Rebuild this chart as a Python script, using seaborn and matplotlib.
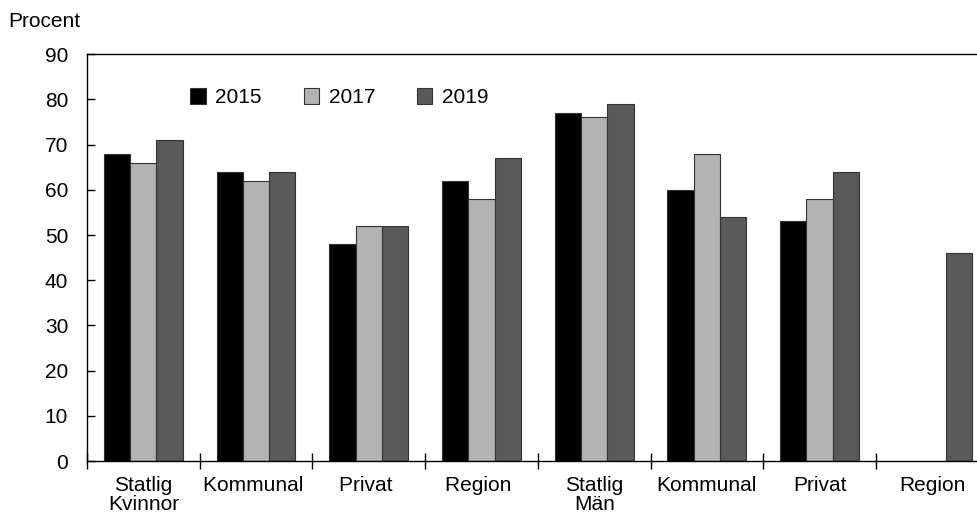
import numpy as np
import pandas as pd
import matplotlib
matplotlib.use("Agg")
import matplotlib.pyplot as plt
import seaborn as sns
from matplotlib.ticker import FixedLocator

# data
groups = ["Statlig\nKvinnor", "Kommunal ", "Privat ", "Region ",
          "Statlig\nMän", "Kommunal", "Privat", "Region"]
years = ["2015", "2017", "2019"]
v2015 = [68, 64, 48, 62, 77, 60, 53, np.nan]
v2017 = [66, 62, 52, 58, 76, 68, 58, np.nan]
v2019 = [71, 64, 52, 67, 79, 54, 64, 46]
colors = ["#000000", "#b3b3b3", "#595959"]

df = pd.DataFrame({
    "grupp": groups * 3,
    "år": [y for y in years for _ in groups],
    "procent": v2015 + v2017 + v2019,
})

sns.set_style("white")
plt.rcParams["font.family"] = ["Liberation Sans", "DejaVu Sans"]
plt.rcParams["font.size"] = 15
plt.rcParams["text.color"] = "black"
plt.rcParams["xtick.color"] = "black"
plt.rcParams["ytick.color"] = "black"

fig = plt.figure(figsize=(9.77, 5.17), dpi=100)
ax = fig.add_axes([0.089, 0.108, 0.923, 0.7873])

sns.barplot(data=df, x="grupp", y="procent", hue="år", order=groups,
            hue_order=years, palette=colors, width=0.7, saturation=1,
            edgecolor="#333333", linewidth=0.8, ax=ax)

ax.set_ylim(0, 90)
ax.set_xlim(-0.5, len(groups) - 0.5)
ax.set_yticks(range(0, 91, 10))
ax.set_xlabel("")
ax.set_ylabel("")

for side in ["top", "left", "bottom"]:
    ax.spines[side].set_visible(True)
    ax.spines[side].set_color("black")
    ax.spines[side].set_linewidth(1)
ax.spines["right"].set_visible(False)

# tick marks between groups, labels centred without marks
ax.xaxis.set_minor_locator(FixedLocator(np.arange(-0.5, len(groups), 1)))
ax.tick_params(axis="x", which="major", length=0, pad=11, labelsize=15)
ax.tick_params(axis="x", which="minor", length=12, width=1, direction="inout",
               bottom=True)
ax.tick_params(axis="y", length=6, width=1, direction="in", left=True,
               pad=13.5, labelsize=15)
for lbl in ax.get_xticklabels():
    lbl.set_linespacing(1.0)

ax.legend(loc="center left", bbox_to_anchor=(0.094, 0.893), ncol=3,
          frameon=False, handlelength=0.75, handleheight=0.75,
          handletextpad=0.45, columnspacing=2.0, fontsize=15)

fig.text(0.008, 0.958, "Procent", fontsize=15, ha="left", va="center")

fig.savefig("out.png", dpi=100)
